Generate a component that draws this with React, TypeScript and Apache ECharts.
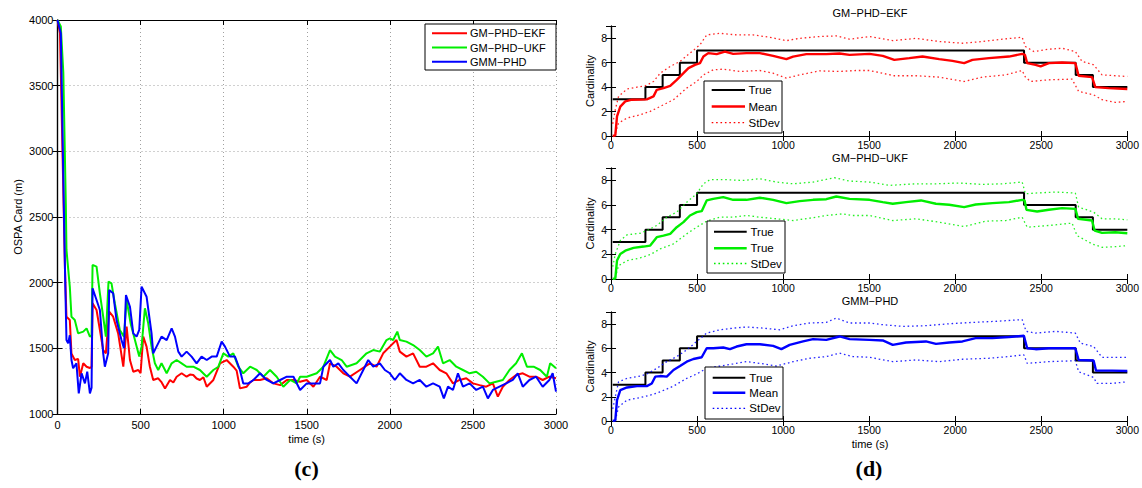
import React, { useEffect, useRef } from "react";
import * as echarts from "echarts";

const FONT = "'Liberation Sans', Arial, Helvetica, sans-serif";
const M = "\u2212";

// ---- (c) OSPA cardinality error, [time s, metres] ----
const ospaEKF: [number, number][] = [
  [0, 4000], [15, 3900], [30, 3000], [45, 2100], [54, 1741], [74, 1716], [84, 1462], [104, 1411], [124, 1420], [135, 1284],
  [155, 1386], [175, 1360], [195, 1350], [205, 1360], [211, 1843], [235, 1792], [255, 1640], [275, 1487], [291, 1462], [311, 1779],
  [335, 1741], [365, 1614], [396, 1360], [416, 1665], [436, 1411], [456, 1322], [486, 1335], [500, 1310], [516, 1589], [536, 1513],
  [556, 1360], [576, 1259], [606, 1272], [627, 1240], [647, 1195], [677, 1259], [697, 1240], [717, 1284], [747, 1310], [777, 1284],
  [797, 1300], [817, 1297], [837, 1270], [857, 1259], [878, 1280], [898, 1208], [938, 1259], [978, 1386], [1018, 1411], [1058, 1360],
  [1078, 1330], [1098, 1195], [1139, 1208], [1159, 1240], [1179, 1259], [1219, 1259], [1259, 1272], [1299, 1233], [1340, 1220],
  [1380, 1259], [1420, 1259], [1460, 1246], [1500, 1259], [1540, 1208], [1580, 1284], [1620, 1259], [1640, 1386], [1680, 1360],
  [1720, 1310], [1760, 1284], [1820, 1335], [1880, 1386], [1920, 1360], [1960, 1462], [2000, 1513], [2040, 1563], [2060, 1475],
  [2100, 1437], [2140, 1462], [2180, 1360], [2220, 1360], [2260, 1386], [2300, 1335], [2340, 1310], [2380, 1233], [2420, 1259],
  [2460, 1272], [2500, 1233], [2540, 1220], [2580, 1208], [2620, 1233], [2650, 1132], [2680, 1208], [2720, 1259], [2760, 1297],
  [2800, 1310], [2840, 1284], [2880, 1284], [2920, 1259], [2960, 1284], [3000, 1272],
];
const ospaUKF: [number, number][] = [
  [0, 4000], [20, 3950], [35, 3600], [50, 2600], [54, 2249], [74, 1970], [84, 1741], [104, 1716], [124, 1614], [155, 1627],
  [175, 1652], [195, 1589], [205, 1600], [211, 2135], [235, 2122], [255, 1919], [275, 1741], [291, 1589], [307, 2008], [325, 1995],
  [345, 1843], [375, 1640], [400, 1589], [416, 1868], [440, 1690], [466, 1563], [492, 1437], [506, 1513], [526, 1805], [546, 1690],
  [566, 1513], [586, 1386], [606, 1335], [626, 1386], [657, 1310], [687, 1386], [717, 1411], [747, 1386], [777, 1360], [817, 1360],
  [857, 1335], [898, 1284], [938, 1335], [968, 1360], [998, 1462], [1028, 1437], [1058, 1462], [1088, 1360], [1118, 1310],
  [1159, 1360], [1199, 1335], [1239, 1284], [1279, 1335], [1319, 1284], [1359, 1208], [1400, 1259], [1440, 1233], [1460, 1284],
  [1500, 1284], [1560, 1310], [1600, 1360], [1640, 1487], [1670, 1437], [1710, 1411], [1740, 1360], [1800, 1386], [1860, 1462],
  [1900, 1487], [1940, 1475], [1980, 1563], [2000, 1576], [2020, 1563], [2045, 1627], [2060, 1563], [2100, 1551], [2140, 1525],
  [2180, 1487], [2220, 1437], [2260, 1462], [2290, 1513], [2320, 1386], [2360, 1411], [2400, 1360], [2440, 1335], [2480, 1310],
  [2520, 1322], [2560, 1284], [2600, 1233], [2640, 1246], [2680, 1259], [2720, 1335], [2760, 1386], [2795, 1462], [2825, 1360],
  [2865, 1360], [2905, 1335], [2945, 1284], [2965, 1386], [3000, 1348],
];
const ospaGMM: [number, number][] = [
  [0, 4000], [20, 3900], [35, 2800], [45, 2100], [54, 1563], [64, 1538], [74, 1600], [84, 1411], [94, 1348], [114, 1386],
  [128, 1157], [145, 1310], [165, 1233], [179, 1322], [195, 1157], [205, 1200], [211, 1957], [235, 1868], [255, 1792], [275, 1462],
  [285, 1360], [305, 1462], [311, 1944], [335, 1919], [355, 1716], [385, 1563], [400, 1500], [412, 1906], [436, 1817], [456, 1614],
  [476, 1589], [492, 1640], [506, 1970], [536, 1893], [566, 1614], [576, 1462], [596, 1513], [626, 1589], [657, 1563], [687, 1652],
  [707, 1589], [727, 1475], [747, 1437], [777, 1475], [807, 1437], [837, 1386], [867, 1437], [898, 1411], [928, 1437], [958, 1437],
  [988, 1551], [1008, 1513], [1038, 1437], [1068, 1437], [1098, 1335], [1118, 1233], [1149, 1233], [1179, 1259], [1219, 1310],
  [1259, 1259], [1299, 1233], [1340, 1259], [1380, 1284], [1420, 1284], [1460, 1183], [1500, 1233], [1540, 1233], [1580, 1233],
  [1600, 1360], [1640, 1411], [1660, 1360], [1690, 1386], [1720, 1335], [1760, 1284], [1800, 1233], [1840, 1335], [1870, 1411],
  [1900, 1360], [1940, 1386], [1970, 1335], [2000, 1310], [2030, 1259], [2060, 1310], [2100, 1259], [2140, 1233], [2180, 1259],
  [2220, 1208], [2260, 1233], [2300, 1208], [2325, 1119], [2350, 1208], [2380, 1183], [2410, 1310], [2440, 1208], [2480, 1233],
  [2520, 1183], [2560, 1208], [2590, 1119], [2620, 1183], [2660, 1208], [2700, 1233], [2740, 1259], [2770, 1310], [2800, 1208],
  [2840, 1259], [2880, 1284], [2920, 1208], [2960, 1259], [2980, 1310], [3000, 1170],
];

// ---- (d) cardinality, [time s, count] ----
const trueCount: [number, number][] = [
  [10, 3], [200, 4], [300, 5], [400, 6], [500, 7], [2400, 6], [2700, 5], [2800, 4], [3000, 4],
];
const ekfMean: [number, number][] = [
  [10, 0], [25, 0.05], [35, 1.6], [54, 2.4], [83, 2.83], [122, 2.97], [170, 2.98], [208, 3.0], [247, 3.24], [266, 3.78], [305, 3.92],
  [344, 4.1], [382, 4.6], [421, 5.14], [450, 5.55], [488, 5.82], [517, 5.96], [537, 6.5], [565, 6.78], [614, 6.7], [662, 6.9],
  [710, 6.72], [787, 6.78], [865, 6.78], [942, 6.56], [1019, 6.29], [1058, 6.5], [1135, 6.7], [1251, 6.7], [1328, 6.75],
  [1386, 6.64], [1502, 6.72], [1579, 6.56], [1646, 6.23], [1733, 6.37], [1810, 6.5], [1907, 6.29], [1984, 6.15], [2052, 5.96],
  [2100, 6.23], [2196, 6.37], [2312, 6.5], [2389, 6.72], [2405, 6.64], [2418, 5.96], [2467, 5.82], [2496, 5.69], [2544, 5.96],
  [2621, 6.01], [2698, 5.96], [2717, 4.93], [2795, 4.82], [2814, 4.0], [2891, 3.92], [3000, 3.84],
];
const ekfUpper: [number, number][] = [
  [10, 1.0], [25, 2.15], [44, 3.24], [93, 3.84], [151, 4.0], [199, 4.1], [247, 4.46], [286, 5.14], [344, 5.69], [401, 6.1],
  [459, 6.78], [517, 7.46], [556, 8.27], [633, 8.4], [730, 8.27], [826, 8.27], [922, 8.08], [1019, 7.8], [1096, 7.99],
  [1212, 8.14], [1309, 8.19], [1386, 7.92], [1502, 8.14], [1637, 7.8], [1772, 7.99], [1907, 7.73], [2042, 7.59], [2158, 7.73],
  [2274, 7.92], [2389, 8.08], [2408, 7.32], [2457, 6.91], [2544, 7.1], [2621, 7.18], [2698, 6.91], [2737, 6.1], [2804, 5.82],
  [2853, 5.0], [2930, 4.93], [3000, 4.87],
];
const ekfLower: [number, number][] = [
  [25, 0.24], [44, 1.06], [93, 1.47], [170, 1.74], [228, 2.01], [286, 2.42], [363, 2.97], [440, 3.92], [498, 4.46], [537, 5.0],
  [594, 5.41], [652, 5.47], [749, 5.28], [865, 5.36], [942, 5.14], [1019, 4.73], [1096, 5.0], [1212, 5.33], [1328, 5.28],
  [1424, 5.36], [1502, 5.36], [1646, 4.93], [1772, 4.93], [1907, 4.82], [2052, 4.46], [2158, 4.82], [2293, 5.0], [2389, 5.36],
  [2408, 4.82], [2438, 4.46], [2544, 4.6], [2679, 4.65], [2717, 3.65], [2804, 3.37], [2853, 2.97], [2930, 2.75], [3000, 2.83],
];
const ukfMean: [number, number][] = [
  [10, 0], [25, 0.05], [35, 1.5], [54, 2.03], [83, 2.3], [131, 2.52], [189, 2.63], [228, 2.71], [266, 3.39], [305, 3.52],
  [344, 3.66], [382, 4.2], [421, 4.61], [459, 5.15], [498, 5.42], [527, 5.5], [556, 6.37], [594, 6.5], [652, 6.64], [710, 6.42],
  [787, 6.42], [865, 6.59], [942, 6.42], [1019, 6.15], [1096, 6.31], [1174, 6.42], [1251, 6.47], [1309, 6.69], [1386, 6.5],
  [1502, 6.42], [1579, 6.23], [1637, 6.1], [1714, 6.23], [1801, 6.37], [1888, 6.1], [1965, 6.02], [2052, 5.83], [2119, 6.04],
  [2216, 6.15], [2312, 6.23], [2389, 6.42], [2403, 6.37], [2414, 5.61], [2476, 5.47], [2544, 5.61], [2621, 5.75], [2698, 5.69],
  [2714, 4.88], [2795, 4.74], [2810, 3.93], [2853, 3.74], [2930, 3.79], [3000, 3.71],
];
const ukfUpper: [number, number][] = [
  [10, 1.0], [25, 2.03], [54, 3.12], [93, 3.58], [170, 3.71], [208, 3.93], [266, 4.34], [324, 5.01], [382, 5.42], [440, 6.23],
  [498, 6.91], [537, 7.72], [575, 8.05], [672, 8.05], [768, 7.99], [865, 8.13], [961, 7.86], [1058, 7.72], [1174, 7.86],
  [1299, 8.21], [1386, 7.94], [1502, 7.86], [1618, 7.59], [1772, 7.72], [1888, 7.72], [2023, 7.78], [2158, 7.67], [2274, 7.72],
  [2389, 7.86], [2408, 6.91], [2467, 6.97], [2583, 7.05], [2698, 6.97], [2717, 5.83], [2804, 5.42], [2853, 4.88], [2930, 4.88],
  [3000, 4.8],
];
const ukfLower: [number, number][] = [
  [25, 0.14], [44, 1.08], [93, 1.49], [170, 1.71], [228, 1.98], [286, 2.44], [363, 2.85], [440, 3.66], [498, 4.2], [556, 4.69],
  [633, 5.01], [710, 5.01], [787, 5.15], [865, 5.01], [961, 4.88], [1058, 4.74], [1154, 4.93], [1251, 5.15], [1347, 5.28],
  [1405, 5.15], [1502, 5.15], [1637, 4.74], [1772, 4.88], [1907, 4.61], [2052, 4.25], [2177, 4.69], [2293, 4.74], [2389, 5.01],
  [2418, 4.2], [2544, 4.34], [2679, 4.53], [2708, 3.52], [2795, 2.85], [2853, 2.57], [2930, 2.62], [3000, 2.71],
];
const gmmMean: [number, number][] = [
  [10, 0], [25, 0.05], [35, 1.72], [54, 2.55], [93, 2.77], [151, 2.88], [208, 2.88], [237, 3.1], [257, 3.66], [286, 3.71],
  [324, 3.66], [363, 4.21], [401, 4.54], [440, 4.9], [479, 5.12], [527, 5.26], [556, 6.01], [594, 6.01], [652, 6.07], [691, 5.93],
  [730, 6.15], [787, 6.34], [865, 6.34], [942, 6.2], [990, 5.93], [1038, 6.29], [1116, 6.57], [1174, 6.76], [1251, 6.7],
  [1328, 6.98], [1386, 6.76], [1502, 6.7], [1579, 6.65], [1637, 6.29], [1714, 6.48], [1830, 6.57], [1888, 6.37], [1965, 6.48],
  [2042, 6.57], [2119, 6.84], [2216, 6.84], [2312, 6.93], [2399, 7.04], [2418, 6.01], [2467, 5.93], [2544, 6.01], [2698, 6.01],
  [2717, 5.04], [2804, 5.0], [2818, 4.16], [2911, 4.16], [3000, 4.13],
];
const gmmUpper: [number, number][] = [
  [10, 1.0], [25, 2.0], [44, 3.24], [93, 3.52], [170, 3.71], [208, 3.88], [266, 4.35], [324, 4.9], [382, 5.32], [440, 5.87],
  [498, 6.57], [556, 7.26], [633, 7.53], [710, 7.67], [787, 7.76], [884, 7.67], [980, 7.53], [1058, 7.87], [1154, 8.09],
  [1251, 8.14], [1309, 8.5], [1386, 8.09], [1502, 8.09], [1579, 7.95], [1695, 7.81], [1830, 7.87], [1965, 8.03], [2100, 8.14],
  [2235, 8.23], [2389, 8.37], [2412, 7.4], [2467, 7.26], [2583, 7.4], [2698, 7.26], [2727, 6.43], [2804, 6.15], [2853, 5.26],
  [3000, 5.26],
];
const gmmLower: [number, number][] = [
  [25, 0.05], [44, 1.16], [93, 1.72], [170, 1.94], [228, 2.13], [286, 2.41], [363, 2.88], [440, 3.52], [498, 3.88], [556, 4.35],
  [633, 4.54], [710, 4.71], [787, 4.9], [865, 4.76], [961, 4.54], [1058, 4.9], [1154, 5.18], [1251, 5.32], [1328, 5.6],
  [1405, 5.32], [1502, 5.26], [1637, 4.9], [1772, 5.04], [1907, 4.9], [2042, 5.1], [2196, 5.18], [2312, 5.32], [2399, 5.46],
  [2418, 4.76], [2544, 4.9], [2698, 4.98], [2717, 4.07], [2804, 3.6], [2823, 3.1], [2911, 3.1], [3000, 3.24],
];

const leftNames = [`GM${M}PHD${M}EKF`, `GM${M}PHD${M}UKF`, `GMM${M}PHD`];
const panelTitles = [`GM${M}PHD${M}EKF`, `GM${M}PHD${M}UKF`, `GMM${M}PHD`];
const panelLegendLabels = [
  ["True", "Mean", "StDev"],
  ["True", "True", "StDev"],
  ["True", "Mean", "StDev"],
];
const COLORS = ["#ff0000", "#00ee00", "#0000ff"];

const DOT = [1.6, 2.8];

export default function App() {
  const ref = useRef<HTMLDivElement>(null);

  useEffect(() => {
    if (!ref.current) return;
    const chart = echarts.init(ref.current, undefined, { renderer: "svg" });

    const axLine = { show: true, lineStyle: { color: "#000", width: 1.2 } };
    const tick = { show: true, inside: true, length: 5, lineStyle: { color: "#000", width: 1 } };
    const split = { show: true, lineStyle: { color: "#888", width: 0.8, type: [1, 3] } };

    // grids: 0 = left (c), 1..3 = right (d)
    const grids = [
      { left: 57.5, top: 20, width: 498.5, height: 394 },
      { left: 611, top: 26, width: 518, height: 110 },
      { left: 611, top: 168, width: 518, height: 111 },
      { left: 611, top: 312, width: 518, height: 109 },
    ];

    const xAxis: any[] = [];
    const yAxis: any[] = [];
    grids.forEach((_, gi) => {
      const isLeft = gi === 0;
      const fs = isLeft ? 11 : 10.5;
      xAxis.push({
        type: "value", gridIndex: gi, min: 0, max: 3000, interval: 500, position: "bottom",
        axisLine: axLine, axisTick: tick, splitLine: isLeft ? split : { show: false },
        axisLabel: {
          show: true, color: "#000", fontSize: fs, fontFamily: FONT, margin: isLeft ? 5 : 3,
          formatter: (v: number) => String(v),
        },
      });
      xAxis.push({
        type: "value", gridIndex: gi, min: 0, max: 3000, interval: 500, position: "top",
        axisLine: axLine, axisTick: tick, splitLine: { show: false }, axisLabel: { show: false },
      });
      yAxis.push({
        type: "value", gridIndex: gi,
        min: isLeft ? 1000 : 0, max: isLeft ? 4000 : 9, interval: isLeft ? 500 : 2, position: "left",
        axisLine: axLine, axisTick: tick, splitLine: isLeft ? split : { show: false },
        axisLabel: {
          show: true, color: "#000", fontSize: fs, fontFamily: FONT, margin: 4,
          formatter: (v: number) => (!isLeft && v === 9 ? "" : String(v)),
        },
      });
      yAxis.push({
        type: "value", gridIndex: gi,
        min: isLeft ? 1000 : 0, max: isLeft ? 4000 : 9, interval: isLeft ? 500 : 2, position: "right",
        axisLine: axLine, axisTick: tick, splitLine: { show: false }, axisLabel: { show: false },
      });
    });

    const series: any[] = [];
    const leftData = [ospaEKF, ospaUKF, ospaGMM];
    leftData.forEach((d, i) => {
      series.push({
        type: "line", name: leftNames[i], data: d, xAxisIndex: 0, yAxisIndex: 0,
        symbol: "none", lineStyle: { color: COLORS[i], width: 2 }, z: 2 + i,
      });
    });
    const panels = [
      [ekfMean, ekfUpper, ekfLower],
      [ukfMean, ukfUpper, ukfLower],
      [gmmMean, gmmUpper, gmmLower],
    ];
    panels.forEach((p, i) => {
      const xi = (i + 1) * 2;
      const yi = (i + 1) * 2;
      series.push({
        type: "line", name: `true-${i}`, data: trueCount, step: "end", xAxisIndex: xi, yAxisIndex: yi,
        symbol: "none", lineStyle: { color: "#000", width: 2 }, z: 2,
      });
      series.push({
        type: "line", name: `mean-${i}`, data: p[0], xAxisIndex: xi, yAxisIndex: yi,
        symbol: "none", lineStyle: { color: COLORS[i], width: 2.4 }, z: 3,
      });
      series.push({
        type: "line", name: `upper-${i}`, data: p[1], xAxisIndex: xi, yAxisIndex: yi,
        symbol: "none", lineStyle: { color: COLORS[i], width: 1.3, type: DOT, opacity: 0.85 }, z: 4,
      });
      series.push({
        type: "line", name: `lower-${i}`, data: p[2], xAxisIndex: xi, yAxisIndex: yi,
        symbol: "none", lineStyle: { color: COLORS[i], width: 1.3, type: DOT, opacity: 0.85 }, z: 4,
      });
    });

    const txt = (text: string, x: number, y: number, o: any = {}) => ({
      type: "text", x, y, z: 100, rotation: o.rotation || 0,
      style: {
        text, fill: "#000", fontSize: o.fontSize || 11, fontFamily: o.fontFamily || FONT,
        fontWeight: o.fontWeight || "normal", align: o.align || "center", verticalAlign: "middle",
      },
    });
    const ln = (x1: number, y1: number, x2: number, y2: number, color: string, width: number, dash?: number[]) => ({
      type: "line", z: 100, shape: { x1, y1, x2, y2 },
      style: { stroke: color, lineWidth: width, lineDash: dash || null },
    });
    const box = (x: number, y: number, w: number, h: number) => ({
      type: "rect", z: 99, shape: { x, y, width: w, height: h },
      style: { fill: "#fff", stroke: "#000", lineWidth: 1 },
    });

    const graphic: any[] = [];
    // left legend
    graphic.push(box(425, 24, 131, 46));
    [33.3, 47.5, 61.7].forEach((yy, i) => {
      graphic.push(ln(432, yy, 467, yy, COLORS[i], 2));
      graphic.push(txt(leftNames[i], 470, yy, { align: "left", fontSize: 11 }));
    });
    // left labels
    graphic.push(txt("OSPA Card (m)", 18, 217, { rotation: Math.PI / 2 }));
    graphic.push(txt("time (s)", 306.7, 438.5));
    graphic.push(txt("(c)", 306.5, 468, { fontSize: 22, fontWeight: "bold", fontFamily: "'Liberation Serif', 'Times New Roman', serif" }));

    // right panel legends
    const legendGeo = [
      { bx: 704, by: 81, rows: [90, 106.5, 122.7], lx0: 711.7, lx1: 745, tx: 748.5 },
      { bx: 707, by: 221, rows: [231.7, 248.3, 263.5], lx0: 714, lx1: 746.7, tx: 750.5 },
      { bx: 705, by: 367, rows: [377.7, 392.7, 408.3], lx0: 712.7, lx1: 745.3, tx: 749.3 },
    ];
    legendGeo.forEach((g, i) => {
      graphic.push(box(g.bx, g.by, 78, 52));
      const styles = [
        { c: "#000", w: 2, d: undefined as any },
        { c: COLORS[i], w: 2.4, d: undefined as any },
        { c: COLORS[i], w: 1.3, d: DOT },
      ];
      g.rows.forEach((yy, r) => {
        graphic.push(ln(g.lx0, yy, g.lx1, yy, styles[r].c, styles[r].w, styles[r].d));
        graphic.push(txt(panelLegendLabels[i][r], g.tx, yy, { align: "left", fontSize: 11.5 }));
      });
    });
    // right titles and labels
    [13.3, 157.5, 300.5].forEach((yy, i) => graphic.push(txt(panelTitles[i], 870, yy)));
    [81, 223.5, 366.5].forEach((yy) => graphic.push(txt("Cardinality", 589.5, yy, { rotation: Math.PI / 2 })));
    graphic.push(txt("time (s)", 870, 444));
    graphic.push(txt("(d)", 869, 468, { fontSize: 22, fontWeight: "bold", fontFamily: "'Liberation Serif', 'Times New Roman', serif" }));

    chart.setOption({
      animation: false,
      backgroundColor: "#fff",
      grid: grids.map((g) => ({ ...g, containLabel: false })),
      xAxis,
      yAxis,
      series,
      graphic,
    });

    return () => chart.dispose();
  }, []);

  return (
    <div
      ref={ref}
      style={{ position: "fixed", left: 0, top: 0, width: 1142, height: 488, background: "#fff" }}
    />
  );
}
